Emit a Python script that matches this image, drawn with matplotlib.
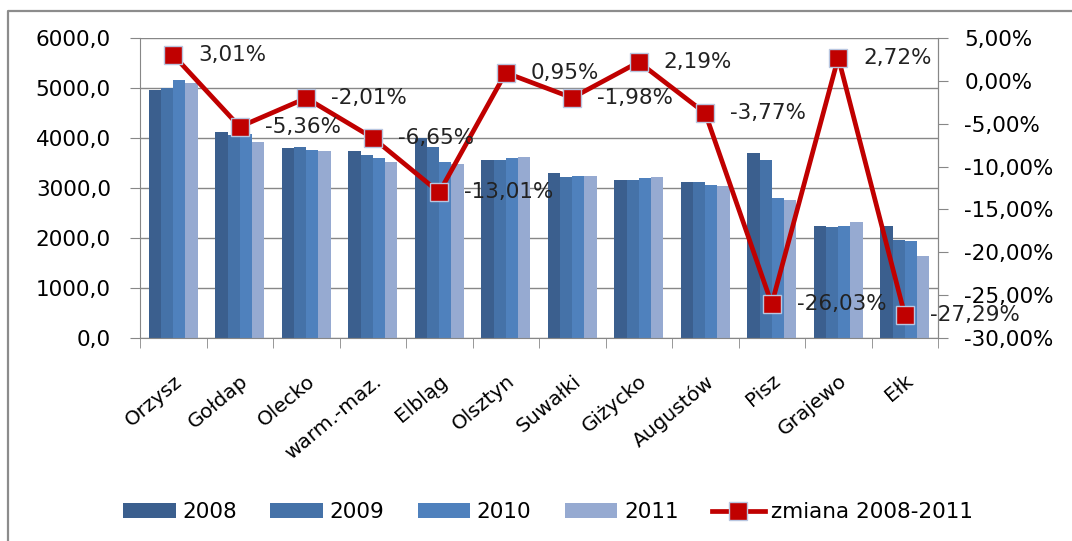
import numpy as np
import matplotlib.pyplot as plt
import matplotlib.transforms as mtransforms
from matplotlib.lines import Line2D
from matplotlib.ticker import FuncFormatter, FixedLocator

plt.rcParams['font.family'] = ['DejaVu Sans']

# towns and yearly values
towns = ['Orzysz', 'Gołdap', 'Olecko', 'warm.-maz.', 'Elbląg', 'Olsztyn',
         'Suwałki', 'Giżycko', 'Augustów', 'Pisz', 'Grajewo', 'Ełk']
v2008 = [4960, 4120, 3800, 3750, 4000, 3565, 3310, 3165, 3125, 3710, 2245, 2245]
v2009 = [5005, 4065, 3820, 3660, 3820, 3565, 3220, 3165, 3125, 3565, 2220, 1965]
v2010 = [5165, 4080, 3755, 3595, 3520, 3595, 3245, 3195, 3060, 2800, 2245, 1945]
v2011 = [5100, 3920, 3735, 3520, 3475, 3620, 3245, 3220, 3035, 2755, 2315, 1640]
change = [3.01, -5.36, -2.01, -6.65, -13.01, 0.95, -1.98, 2.19, -3.77, -26.03, 2.72, -27.29]

years = ['2008', '2009', '2010', '2011']
colors = ['#3B5F8E', '#4572A8', '#4F81BD', '#96AAD1']
grid_c = '#878787'
fs = 15.5

fig = plt.figure(figsize=(10.72, 5.41), dpi=100)
ax = fig.add_axes([140 / 1072, 1 - 338 / 541, 798 / 1072, 300 / 541])

x = np.arange(len(towns))
w = 0.183
bars = []
for i, (vals, c) in enumerate(zip([v2008, v2009, v2010, v2011], colors)):
    b = ax.bar(x + (i - 1.5) * w, vals, w, color=c, label=years[i], zorder=2)
    bars.append(b)

ax.set_xlim(-0.5, len(towns) - 0.5)
ax.set_ylim(0, 6000)
ax.set_yticks(np.arange(0, 6001, 1000))
ax.yaxis.set_major_formatter(FuncFormatter(lambda v, p: f'{v:.1f}'.replace('.', ',')))
ax.grid(axis='y', color=grid_c, lw=1)
ax.set_axisbelow(True)
ax.set_xticks(x)
ax.set_xticklabels(towns, rotation=40, ha='right', rotation_mode='anchor', fontsize=14.5)
# nudge the slanted names a little to the left
shift = mtransforms.ScaledTranslation(-9 / 100, 0, fig.dpi_scale_trans)
for lab in ax.get_xticklabels():
    lab.set_transform(lab.get_transform() + shift)
ax.xaxis.set_minor_locator(FixedLocator(np.arange(-0.5, len(towns), 1)))
ax.tick_params(axis='x', which='major', length=0, pad=24)
ax.tick_params(axis='x', which='minor', length=7, color=grid_c, direction='out')
ax.tick_params(axis='y', length=7, color=grid_c, labelsize=fs, pad=14)
for s in ['left', 'bottom', 'right']:
    ax.spines[s].set_color(grid_c)
ax.spines['top'].set_visible(False)

# percentage change on the second axis
ax2 = ax.twinx()
ln, = ax2.plot(x, change, color='#C00000', lw=3.4, marker='s', ms=13,
               mfc='#C00000', mec='#B8C6E0', mew=1, label='zmiana 2008-2011', zorder=5)
ax2.set_ylim(-30, 5)
ax2.set_yticks(np.arange(-30, 6, 5))
ax2.yaxis.set_major_formatter(FuncFormatter(lambda v, p: f'{v:.2f}%'.replace('.', ',')))
ax2.tick_params(axis='y', length=7, color=grid_c, labelsize=fs, pad=12)
for s in ['left', 'bottom', 'top']:
    ax2.spines[s].set_visible(False)
ax2.spines['right'].set_color(grid_c)

for xi, c in zip(x, change):
    ax2.annotate(f'{c:.2f}%'.replace('.', ','), (xi, c), xytext=(18, 0),
                 textcoords='offset points', ha='left', va='center',
                 fontsize=fs, color='#222222', zorder=6)

handles = bars + [ln]
fig.legend(handles, years + ['zmiana 2008-2011'], loc='center',
           bbox_to_anchor=(548 / 1072, 1 - 512 / 541), ncol=5, frameon=False,
           fontsize=fs, handlelength=2.45, handleheight=0.65, handletextpad=0.3,
           columnspacing=1.55)

# outer frame
fig.add_artist(Line2D([8 / 1072, 8 / 1072, 1.0], [0.0, 1 - 11 / 541, 1 - 11 / 541],
                      transform=fig.transFigure, color='#8C8C8C', lw=1.6))

fig.savefig('out.png', dpi=100)
